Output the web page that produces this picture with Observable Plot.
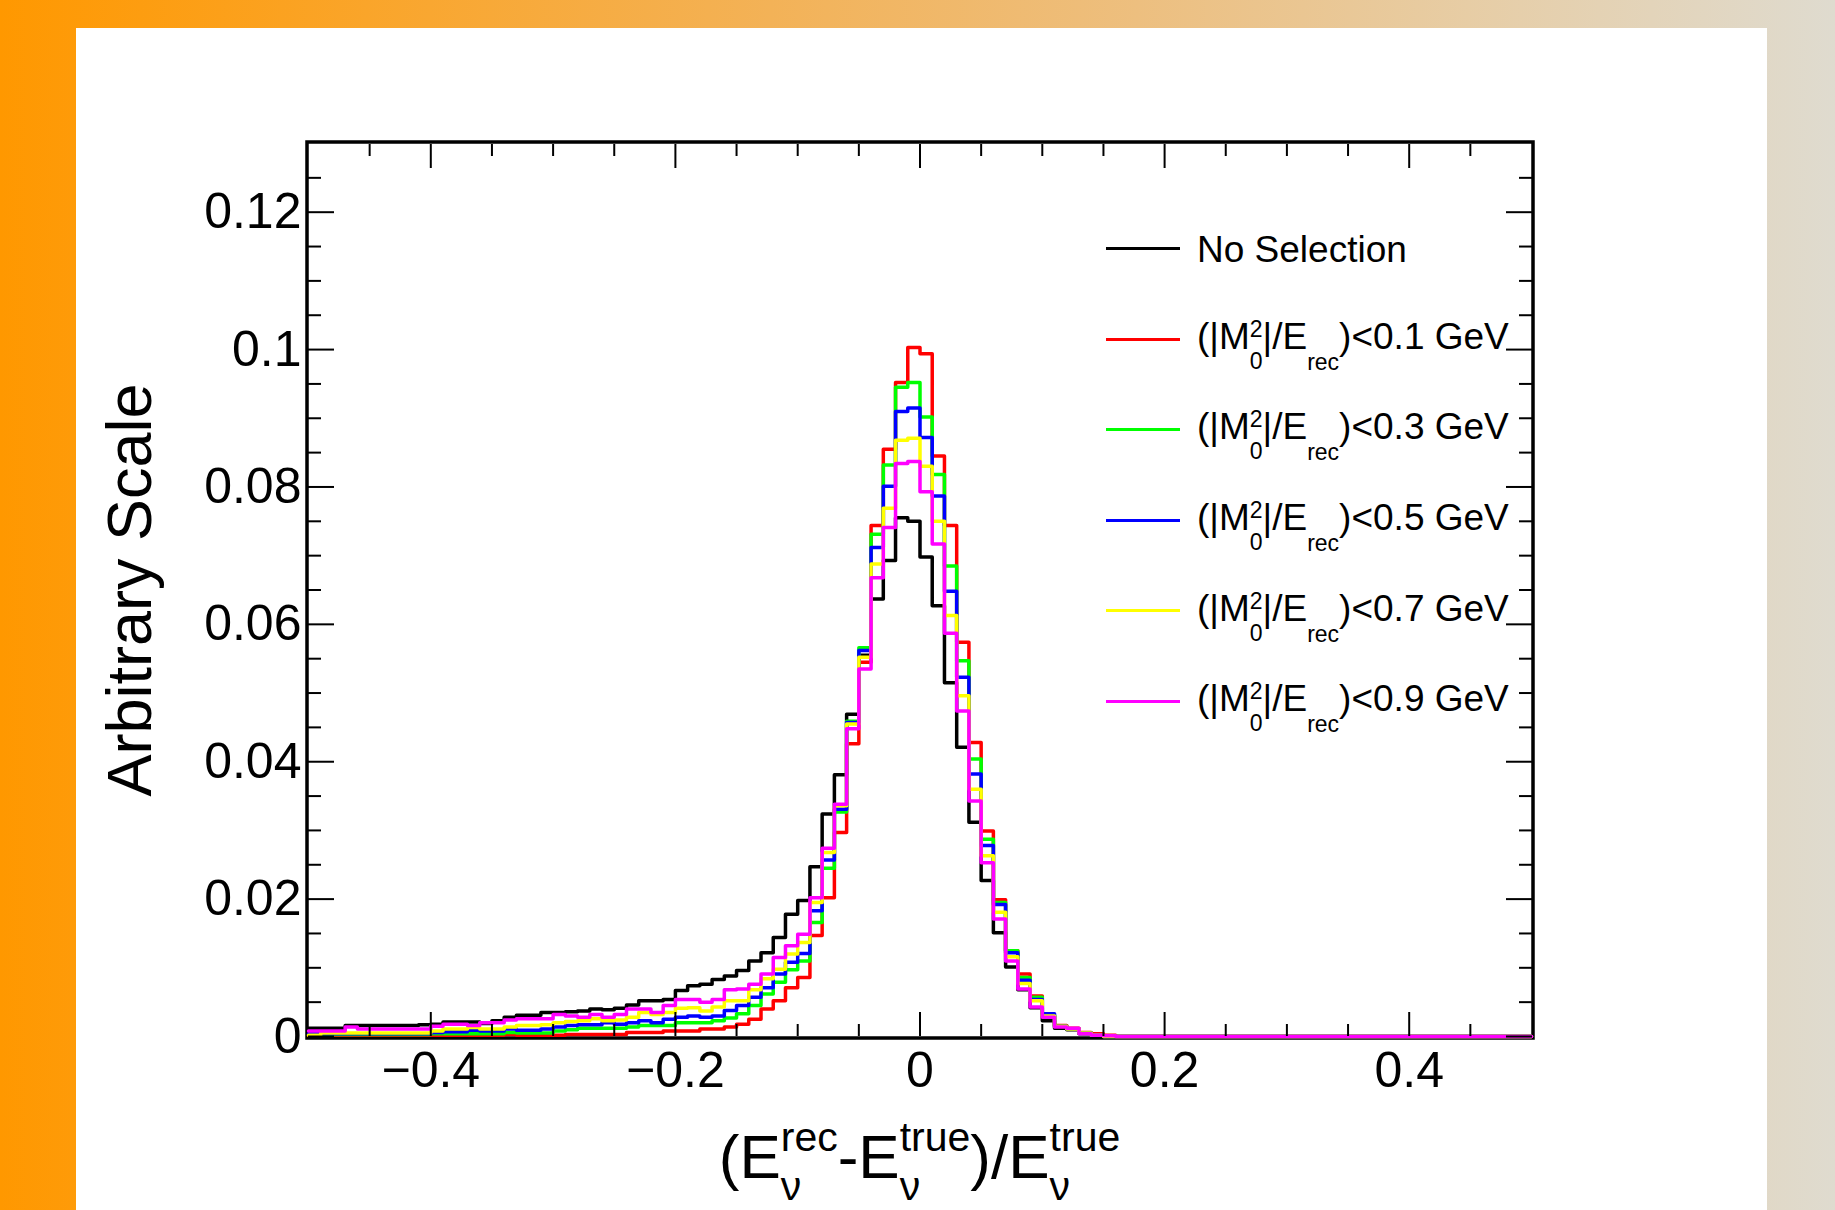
<!DOCTYPE html>
<html>
<head>
<meta charset="utf-8">
<script src="https://cdn.jsdelivr.net/npm/d3@7"></script>
<script src="https://cdn.jsdelivr.net/npm/@observablehq/plot@0.6"></script>
<style>
  html, body { margin: 0; padding: 0; }
  body {
    width: 1835px; height: 1210px; overflow: hidden; position: relative;
    background: linear-gradient(to right, #ff9800 0%, #faa52a 20%, #f3b257 42%, #edbf7f 62%, #e7cda5 80%, #dfdbcf 100%);
    font-family: "Liberation Sans", Arial, Helvetica, sans-serif; color: #000;
  }
  #panel { position: absolute; left: 76px; top: 28px; width: 1691px; height: 1182px; background: #fff; }
  #chart { position: absolute; left: 0; top: 0; }
  .abs { position: absolute; white-space: nowrap; line-height: 1; }
  .legline { position: absolute; width: 74px; height: 3px; }
  .leg { font-size: 37px; }
  .stk { position: relative; top: -12px; font-size: 23px; }
  .stk .lo { position: absolute; left: 0; top: 34px; }
  .sb { position: relative; top: 21px; font-size: 23px; }
  #xtitle { left: 308px; width: 1223px; text-align: center; font-size: 62px; }
  .xs { position: relative; top: -27px; font-size: 41px; }
  .xs .xlo { position: absolute; left: 0; top: 52px; }
</style>
</head>
<body>
<div id="panel"><div id="chart"></div></div>
<script>
// ---------------- data ----------------
// 100 bins of width 0.01 between -0.5 and 0.5
const binEdges = d3.range(101).map(i => Math.round((-0.5 + i * 0.01) * 100) / 100);

const noSelection = [
  0.0012,0.0012,0.0012,0.0016,0.0016,0.0016,0.0016,0.0016,0.0016,0.0017,
  0.0018,0.0021,0.0021,0.0021,0.0019,0.0023,0.0028,0.0031,0.0031,0.0035,
  0.0035,0.0036,0.0037,0.0040,0.0039,0.0041,0.0046,0.0052,0.0052,0.0054,
  0.0067,0.0074,0.0076,0.0083,0.0088,0.0096,0.0110,0.0122,0.0144,0.0178,
  0.0198,0.0247,0.0324,0.0381,0.0469,0.0555,0.0637,0.0693,0.0755,0.0750,
  0.0698,0.0627,0.0515,0.0421,0.0312,0.0227,0.0151,0.0101,0.0068,0.0042,
  0.0023,0.0012,0.0010,0.0004,0.0002,0,0,0,0,0,
  0,0,0,0,0,0,0,0,0,0,
  0,0,0,0,0,0,0,0,0,0,
  0,0,0,0,0,0,0,0,0,0
];
const cut01 = [
  0.0002,0.0002,0.0002,0.0002,0.0002,0.0002,0.0002,0.0002,0.0002,0.0002,
  0.0002,0.0002,0.0002,0.0002,0.0002,0.0002,0.0003,0.0002,0.0002,0.0002,
  0.0002,0.0003,0.0003,0.0003,0.0003,0.0003,0.0006,0.0006,0.0006,0.0008,
  0.0008,0.0008,0.0011,0.0011,0.0014,0.0018,0.0025,0.0040,0.0052,0.0071,
  0.0086,0.0147,0.0202,0.0297,0.0426,0.0545,0.0744,0.0855,0.0952,0.1003,
  0.0994,0.0845,0.0744,0.0574,0.0428,0.0299,0.0199,0.0125,0.0091,0.0059,
  0.0030,0.0016,0.0012,0.0006,0.0004,0.0002,0,0,0,0,
  0,0,0,0,0,0,0,0,0,0,
  0,0,0,0,0,0,0,0,0,0,
  0,0,0,0,0,0,0,0,0,0
];
const cut03 = [
  0.0003,0.0003,0.0003,0.0003,0.0003,0.0003,0.0003,0.0003,0.0003,0.0003,
  0.0004,0.0004,0.0004,0.0004,0.0004,0.0004,0.0006,0.0005,0.0005,0.0005,
  0.0008,0.0010,0.0012,0.0012,0.0012,0.0012,0.0014,0.0016,0.0016,0.0016,
  0.0020,0.0020,0.0020,0.0023,0.0027,0.0033,0.0045,0.0062,0.0079,0.0097,
  0.0110,0.0166,0.0245,0.0327,0.0459,0.0566,0.0731,0.0832,0.0945,0.0952,
  0.0902,0.0818,0.0685,0.0547,0.0404,0.0287,0.0195,0.0125,0.0086,0.0057,
  0.0031,0.0015,0.0011,0.0005,0.0002,0,0,0,0,0,
  0,0,0,0,0,0,0,0,0,0,
  0,0,0,0,0,0,0,0,0,0,
  0,0,0,0,0,0,0,0,0,0
];
const cut05 = [
  0.0004,0.0004,0.0004,0.0004,0.0004,0.0004,0.0004,0.0004,0.0004,0.0004,
  0.0006,0.0007,0.0007,0.0009,0.0008,0.0008,0.0011,0.0009,0.0009,0.0011,
  0.0014,0.0016,0.0017,0.0017,0.0020,0.0018,0.0020,0.0023,0.0020,0.0025,
  0.0028,0.0030,0.0028,0.0030,0.0038,0.0045,0.0057,0.0071,0.0091,0.0108,
  0.0121,0.0183,0.0257,0.0331,0.0457,0.0562,0.0712,0.0801,0.0910,0.0915,
  0.0872,0.0787,0.0648,0.0523,0.0382,0.0278,0.0192,0.0122,0.0082,0.0054,
  0.0033,0.0015,0.0011,0.0005,0.0002,0,0,0,0,0,
  0,0,0,0,0,0,0,0,0,0,
  0,0,0,0,0,0,0,0,0,0,
  0,0,0,0,0,0,0,0,0,0
];
const cut07 = [
  0.0002,0.0005,0.0005,0.0005,0.0005,0.0005,0.0005,0.0005,0.0005,0.0005,
  0.0008,0.0011,0.0011,0.0013,0.0011,0.0011,0.0014,0.0016,0.0016,0.0017,
  0.0020,0.0022,0.0023,0.0026,0.0023,0.0024,0.0028,0.0035,0.0032,0.0035,
  0.0041,0.0042,0.0037,0.0043,0.0052,0.0052,0.0068,0.0084,0.0098,0.0120,
  0.0137,0.0195,0.0268,0.0336,0.0455,0.0552,0.0688,0.0769,0.0868,0.0871,
  0.0830,0.0750,0.0613,0.0496,0.0360,0.0263,0.0181,0.0116,0.0077,0.0052,
  0.0030,0.0015,0.0011,0.0005,0.0002,0,0,0,0,0,
  0,0,0,0,0,0,0,0,0,0,
  0,0,0,0,0,0,0,0,0,0,
  0,0,0,0,0,0,0,0,0,0
];
const cut09 = [
  0.0008,0.0008,0.0008,0.0014,0.0011,0.0011,0.0011,0.0011,0.0011,0.0011,
  0.0015,0.0018,0.0018,0.0016,0.0020,0.0020,0.0024,0.0026,0.0026,0.0026,
  0.0032,0.0030,0.0028,0.0032,0.0028,0.0032,0.0040,0.0040,0.0035,0.0045,
  0.0054,0.0054,0.0050,0.0054,0.0068,0.0069,0.0076,0.0091,0.0115,0.0132,
  0.0149,0.0202,0.0274,0.0338,0.0448,0.0535,0.0668,0.0741,0.0834,0.0837,
  0.0793,0.0717,0.0587,0.0474,0.0343,0.0253,0.0171,0.0110,0.0069,0.0043,
  0.0028,0.0014,0.0012,0.0004,0.0002,0.0001,0,0,0,0,
  0,0,0,0,0,0,0,0,0,0,
  0,0,0,0,0,0,0,0,0,0,
  0,0,0,0,0,0,0,0,0,0
];

const seriesKeys   = ["none", "0.1", "0.3", "0.5", "0.7", "0.9"];
const seriesValues = [noSelection, cut01, cut03, cut05, cut07, cut09];
const seriesColors = ["#000000", "#ff0000", "#00ff00", "#0000ff", "#ffff00", "#ff00ff"];
const legendCuts   = ["0.1", "0.3", "0.5", "0.7", "0.9"];

const xMajorTicks = [-0.4, -0.2, 0, 0.2, 0.4];
const xTickLabels = ["\u22120.4", "\u22120.2", "0", "0.2", "0.4"];
const xMinorTicks = [-0.45, -0.35, -0.3, -0.25, -0.15, -0.1, -0.05, 0.05, 0.1, 0.15, 0.25, 0.3, 0.35, 0.45];
const yMajorTicks = [0, 0.02, 0.04, 0.06, 0.08, 0.1, 0.12];
const yTickLabels = ["0", "0.02", "0.04", "0.06", "0.08", "0.1", "0.12"];
const yMinorTicks = [0.005, 0.01, 0.015, 0.025, 0.03, 0.035, 0.045, 0.05, 0.055, 0.065, 0.07, 0.075,
                     0.085, 0.09, 0.095, 0.105, 0.11, 0.115, 0.125];
const yTitle = "Arbitrary Scale";

// ---------------- table ----------------
const table = [];
seriesKeys.forEach((key, s) => {
  binEdges.forEach((x, i) => {
    table.push({series: key, x, y: seriesValues[s][Math.min(i, seriesValues[s].length - 1)]});
  });
});

const xLabelMap = new Map(xMajorTicks.map((d, i) => [d, xTickLabels[i]]));
const yLabelMap = new Map(yMajorTicks.map((d, i) => [d, yTickLabels[i]]));
const FONT = '"Liberation Sans", Arial, Helvetica, sans-serif';

const tickAxis = (fn, ticks, anchor, size) =>
  fn(ticks, {anchor, tickSize: -size, strokeWidth: 2, fill: "none", label: null});

const marks = [
  Plot.frame({stroke: "black", strokeWidth: 3.5, inset: -1.5}),
  ...seriesKeys.map((key, s) =>
    Plot.lineY(table.filter(d => d.series === key), {
      x: "x", y: "y", curve: "step-after", stroke: seriesColors[s], strokeWidth: 3.5
    })),
  tickAxis(Plot.axisX, xMajorTicks, "bottom", 24),
  tickAxis(Plot.axisX, xMinorTicks, "bottom", 12),
  tickAxis(Plot.axisX, xMajorTicks, "top", 24),
  tickAxis(Plot.axisX, xMinorTicks, "top", 12),
  tickAxis(Plot.axisY, yMajorTicks, "left", 26),
  tickAxis(Plot.axisY, yMinorTicks, "left", 13),
  tickAxis(Plot.axisY, yMajorTicks, "right", 26),
  tickAxis(Plot.axisY, yMinorTicks, "right", 13),
  Plot.axisX(xMajorTicks, {anchor: "bottom", tickSize: 0, tickPadding: 15, tickFormat: d => xLabelMap.get(d),
    fontSize: 50, label: null}),
  Plot.axisY(yMajorTicks, {anchor: "left", tickSize: 0, tickPadding: 7, tickFormat: d => yLabelMap.get(d),
    fontSize: 50, label: null}),
  Plot.text([yTitle], {text: d => d, frameAnchor: "left", textAnchor: "middle", rotate: -90, dx: -178, fontSize: 63})
];

const chart = Plot.plot({
  width: 1691, height: 1182,
  marginLeft: 232, marginRight: 236, marginTop: 115, marginBottom: 174,
  x: {domain: [-0.5, 0.5]},
  y: {domain: [0, 0.13]},
  style: {background: "transparent", fontFamily: FONT, color: "black", overflow: "visible"},
  marks
});
document.getElementById("chart").appendChild(chart);

// ---------------- legend (HTML overlay) ----------------
const legendLineX = 1106, legendTextX = 1197, legendTop = 248.5, legendStep = 90.6;
const legendLabels = ["No Selection"].concat(legendCuts.map(c =>
  `(|M<span class="stk">2<span class="lo">0</span></span>|/E<span class="sb">rec</span>)&lt;${c} GeV`));
legendLabels.forEach((html, i) => {
  const yLine = legendTop + i * legendStep;
  const ln = document.createElement("div");
  ln.className = "legline";
  ln.style.left = legendLineX + "px";
  ln.style.top = (yLine - 1.5) + "px";
  ln.style.background = seriesColors[i];
  document.body.appendChild(ln);
  const tx = document.createElement("div");
  tx.className = "abs leg";
  const baseline = yLine + (i === 0 ? 13.5 : 10);
  tx.style.left = legendTextX + "px";
  tx.style.top = (baseline - 0.8465 * 37) + "px";
  tx.innerHTML = html;
  document.body.appendChild(tx);
});

// ---------------- x-axis title (HTML overlay) ----------------
const xt = document.createElement("div");
xt.id = "xtitle";
xt.className = "abs";
xt.style.top = (1178 - 0.8465 * 62) + "px";
xt.innerHTML = '(E<span class="xs">rec<span class="xlo">\u03bd</span></span>-E<span class="xs">true<span class="xlo">\u03bd</span></span>)/E<span class="xs">true<span class="xlo">\u03bd</span></span>';
document.body.appendChild(xt);
</script>
</body>
</html>
